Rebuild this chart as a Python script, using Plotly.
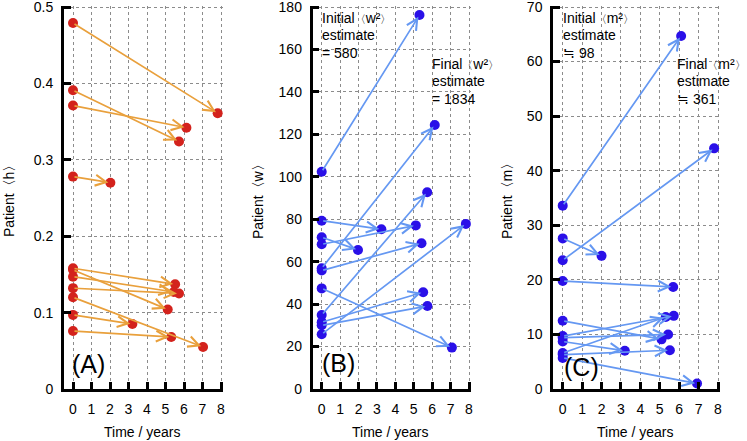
import plotly.graph_objects as go

# ---------------- data ----------------
h_time = [7.82, 5.73, 6.13, 2.02, 5.52, 5.12, 5.45, 5.73, 7.03, 3.21, 5.31]
h_start = [0.479, 0.391, 0.371, 0.278, 0.158, 0.156, 0.147, 0.132, 0.120, 0.097, 0.076]
h_end = [0.361, 0.324, 0.342, 0.270, 0.137, 0.104, 0.127, 0.125, 0.055, 0.085, 0.068]

w_time = [5.31, 3.24, 1.97, 5.11, 6.14, 5.42, 7.07, 5.73, 5.51, 5.74, 7.83]
w_start = [102.4, 79.3, 71.5, 68.2, 56.9, 55.8, 47.4, 34.9, 31.5, 30.0, 25.8]
w_end = [176.2, 75.3, 65.5, 77.1, 124.4, 68.7, 19.5, 92.7, 45.6, 39.1, 77.8]

m_time = [6.10, 7.80, 2.00, 5.69, 5.09, 5.72, 5.43, 3.20, 5.31, 5.52, 6.92]
m_start = [33.6, 23.6, 27.6, 19.8, 12.5, 9.7, 9.4, 8.7, 6.6, 6.3, 5.7]
m_end = [64.7, 44.1, 24.4, 18.7, 9.1, 13.4, 10.0, 7.0, 13.2, 7.1, 1.0]

x_ticks = [0, 1, 2, 3, 4, 5, 6, 7, 8]
h_ticks = [0, 0.1, 0.2, 0.3, 0.4, 0.5]
w_ticks = [0, 20, 40, 60, 80, 100, 120, 140, 160, 180]
m_ticks = [0, 10, 20, 30, 40, 50, 60, 70]

panel_labels = ["(A)", "(B)", "(C)"]
y_titles = ["Patient〈h〉", "Patient〈w〉", "Patient〈m〉"]
x_title = "Time / years"
LB = '<span style="font-size:11px">〈</span>'
RB = '<span style="font-size:11px">〉</span>'
notes_w = [["Initial" + LB + "w²" + RB, "estimate", "= 580"],
           ["Final" + LB + "w²" + RB, "estimate", "= 1834"]]
notes_m = [["Initial" + LB + "m²" + RB, "estimate", "≒ 98"],
           ["Final" + LB + "m²" + RB, "estimate", "≒ 361"]]

# ---------------- style ----------------
FONT = "Liberation Sans, Arial, sans-serif"
W, H = 747, 441
RED = "#d3221c"
ORANGE = "#e9a03c"
BLUE_M = "#2a10e8"
BLUE_L = "#6598f2"

EXT = 1.5  # px of axis beyond last tick so end gridlines are kept
y_top_px, y_bot_px = 7 - EXT, 389
xdomains_px = [(63.75, 221.0 + EXT), (312.5, 469.0 + EXT), (553.0, 718.0 + EXT)]
ydom = [(H - y_bot_px) / H, (H - y_top_px) / H]

fig = go.Figure()

panels = [
    (h_time, h_start, h_end, h_ticks, 0.5, RED, ORANGE),
    (w_time, w_start, w_end, w_ticks, 180, BLUE_M, BLUE_L),
    (m_time, m_start, m_end, m_ticks, 70, BLUE_M, BLUE_L),
]

annotations = []
for i, (tt, vs, ve, yt, ymax, mcol, acol) in enumerate(panels):
    sfx = "" if i == 0 else str(i + 1)
    xa, ya = "x" + sfx, "y" + sfx
    for t, a, b in zip(tt, vs, ve):
        annotations.append(dict(
            x=t, y=b, ax=0, ay=a, xref=xa, yref=ya, axref=xa, ayref=ya,
            text="", showarrow=True, arrowhead=5, arrowsize=1.25,
            arrowwidth=1.7, arrowcolor=acol, standoff=2, startstandoff=0,
        ))
    fig.add_trace(go.Scatter(
        x=[0] * len(vs) + list(tt), y=list(vs) + list(ve), mode="markers",
        marker=dict(size=10, color=mcol, line=dict(width=0)),
        xaxis=xa, yaxis=ya, showlegend=False, hoverinfo="skip", cliponaxis=False,
    ))
    x0, x1 = xdomains_px[i]
    xpx_per = (x1 - EXT - x0) / 8.5
    ypx_per = (y_bot_px - (y_top_px + EXT)) / ymax
    axis_common = dict(
        showline=True, linecolor="black", linewidth=2.5,
        ticks="inside", ticklen=7, tickwidth=2.5, tickcolor="black",
        showgrid=True, gridcolor="#8c8c8c", griddash="dot", gridwidth=1,
        zeroline=False, tickfont=dict(family=FONT, size=14, color="black"),
        ticklabeloverflow="allow", automargin=False,
    )
    fig.update_layout(**{
        ("xaxis" + sfx): dict(
            domain=[x0 / W, x1 / W], range=[-0.5, 8 + EXT / xpx_per],
            tickvals=x_ticks, anchor=ya, ticklabelstandoff=5, **axis_common),
        ("yaxis" + sfx): dict(
            domain=ydom, range=[0, ymax + EXT / ypx_per], tickvals=yt,
            anchor=xa, ticklabelstandoff=5, **axis_common),
    })
    lab_x = [72, 322, 564][i]
    lab_y = [364, 363, 367][i]
    annotations.append(dict(
        text=panel_labels[i], xref="paper", yref="paper",
        x=(lab_x - 2) / W, y=(H - lab_y) / H,
        xanchor="left", yanchor="middle", showarrow=False,
        font=dict(family=FONT, size=25, color="black"),
    ))
    annotations.append(dict(
        text=x_title, xref="paper", yref="paper",
        x=(x0 + x1 - EXT) / 2 / W, y=(H - 432) / H, xanchor="center",
        yanchor="middle", showarrow=False,
        font=dict(family=FONT, size=14, color="black"),
    ))
    ytx = [9, 258, 507][i]
    annotations.append(dict(
        text=y_titles[i], xref="paper", yref="paper", textangle=-90,
        x=ytx / W, y=(H - 198) / H, xanchor="center", yanchor="middle",
        showarrow=False, font=dict(family=FONT, size=14, color="black"),
    ))

# estimate notes, one annotation per line
note_sets = [(notes_w[0], 321, 18), (notes_w[1], 431, 64),
             (notes_m[0], 562, 18), (notes_m[1], 676, 64)]
for lines, lx, ly in note_sets:
    for k, line in enumerate(lines):
        annotations.append(dict(
            text=line, xref="paper", yref="paper",
            x=(lx - 1) / W, y=(H - (ly + 17.3 * k)) / H,
            xanchor="left", yanchor="middle", align="left",
            showarrow=False, font=dict(family=FONT, size=14, color="black"),
        ))

fig.update_layout(
    width=W, height=H, margin=dict(l=0, r=0, t=0, b=0, pad=0),
    paper_bgcolor="white", plot_bgcolor="white", autosize=False,
    annotations=annotations, font=dict(family=FONT, size=14, color="black"),
)

fig.write_html("out.html", config={"displayModeBar": False},
               post_script="document.body.style.margin='0';")
